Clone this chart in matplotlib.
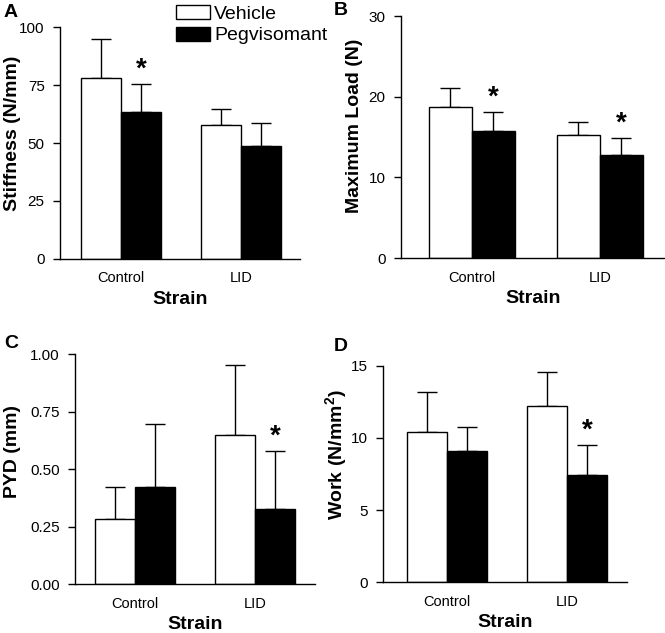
import matplotlib

matplotlib.use("Agg")
import matplotlib.pyplot as plt
import numpy as np
from matplotlib.patches import Patch

plt.rcParams["font.family"] = ["Liberation Sans", "DejaVu Sans"]
plt.rcParams["mathtext.fontset"] = "custom"
plt.rcParams["mathtext.rm"] = "Liberation Sans"
plt.rcParams["mathtext.bf"] = "Liberation Sans:bold"

strains = ["Control", "LID"]
groups = ["Vehicle", "Pegvisomant"]

stiff_veh = [78.1, 57.6]
stiff_veh_err = [16.6, 7.0]
stiff_peg = [63.5, 48.9]
stiff_peg_err = [11.9, 9.6]

load_veh = [18.7, 15.3]
load_veh_err = [2.4, 1.6]
load_peg = [15.7, 12.8]
load_peg_err = [2.4, 2.1]

pyd_veh = [0.282, 0.647]
pyd_veh_err = [0.138, 0.307]
pyd_peg = [0.423, 0.327]
pyd_peg_err = [0.271, 0.252]

work_veh = [10.41, 12.24]
work_veh_err = [2.76, 2.34]
work_peg = [9.13, 7.42]
work_peg_err = [1.60, 2.09]

# which pegvisomant bars carry a star, per panel
stars_a = [True, False]
stars_b = [True, True]
stars_c = [False, True]
stars_d = [False, True]


def panneau(fig, rect, xlim, larg, veh, veh_err, peg, peg_err, stars,
            ylim, yticks, fmt, ylabel, lab_xy, lettre, lettre_pos):
    ax = fig.add_axes(rect)
    x = np.arange(len(strains))
    for pos, val, err, col in [(x - larg / 2, veh, veh_err, "white"),
                               (x + larg / 2, peg, peg_err, "black")]:
        ax.bar(pos, val, width=larg, color=col, edgecolor="black",
               linewidth=1.0, zorder=2)
        ax.errorbar(pos, val, yerr=[np.zeros(len(val)), err], fmt="none",
                    ecolor="black", elinewidth=1.0, capsize=7, capthick=1.0,
                    zorder=1)
    for i, s in enumerate(stars):
        if s:
            top = peg[i] + peg_err[i]
            ax.text(x[i] + larg / 2, top + (ylim[1] - ylim[0]) * 0.005, "*",
                    ha="center", va="bottom", fontsize=20, fontweight="bold")
    ax.set_xlim(*xlim)
    ax.set_ylim(*ylim)
    ax.set_yticks(yticks)
    ax.set_yticklabels([fmt.format(v) for v in yticks])
    ax.set_xticks(x)
    ax.set_xticklabels(strains)
    ax.tick_params(axis="x", length=0, pad=9, labelsize=10.5)
    ax.tick_params(axis="y", length=5, width=1, direction="out", pad=6,
                   labelsize=11)
    for sp in ["top", "right"]:
        ax.spines[sp].set_visible(False)
    for sp in ["left", "bottom"]:
        ax.spines[sp].set_linewidth(1.0)
    ax.set_xlabel("Strain", fontsize=14, fontweight="bold", labelpad=4)
    ax.set_ylabel(ylabel, fontsize=14, fontweight="bold")
    ax.yaxis.set_label_coords(*lab_xy)
    fig.text(lettre_pos[0] / 665, 1 - lettre_pos[1] / 633, lettre,
             fontsize=14, fontweight="bold", ha="left", va="top")
    return ax


fig = plt.figure(figsize=(6.65, 6.33), dpi=100)

panneau(fig, [60 / 665, 1 - 259 / 633, 240 / 665, 232 / 633], (-0.508, 1.49),
        0.333, stiff_veh, stiff_veh_err, stiff_peg, stiff_peg_err, stars_a,
        (0, 100), [0, 25, 50, 75, 100], "{:.0f}", "Stiffness (N/mm)",
        (-0.163, 0.543), "A", (4, 4))
panneau(fig, [401 / 665, 1 - 258 / 633, 264 / 665, 242 / 633], (-0.555, 1.51),
        0.336, load_veh, load_veh_err, load_peg, load_peg_err, stars_b,
        (0, 30), [0, 10, 20, 30], "{:.0f}", "Maximum Load (N)",
        (-0.144, 0.545), "B", (334, 2))
panneau(fig, [75 / 665, 1 - 584 / 633, 240 / 665, 230 / 633], (-0.5, 1.5),
        0.333, pyd_veh, pyd_veh_err, pyd_peg, pyd_peg_err, stars_c,
        (0, 1), [0, 0.25, 0.5, 0.75, 1.0], "{:.2f}", "PYD (mm)",
        (-0.225, 0.574), "C", (4, 335))
panneau(fig, [383 / 665, 1 - 582 / 633, 244 / 665, 216 / 633], (-0.533, 1.5),
        0.333, work_veh, work_veh_err, work_peg, work_peg_err, stars_d,
        (0, 15), [0, 5, 10, 15], "{:.0f}", r"Work (N/mm$^{\mathbf{2}}$)",
        (-0.135, 0.588), "D", (334, 338))

handles = [Patch(facecolor="white", edgecolor="black", linewidth=1.0),
           Patch(facecolor="black", edgecolor="black", linewidth=1.0)]
fig.legend(handles, groups, loc="upper left",
           bbox_to_anchor=(176 / 665, 1 - 5 / 633), frameon=False,
           fontsize=14, handlelength=1.75, handleheight=0.7,
           handletextpad=0.2, labelspacing=0.22, borderpad=0,
           borderaxespad=0)

fig.savefig("out.png", dpi=100)
plt.close(fig)
